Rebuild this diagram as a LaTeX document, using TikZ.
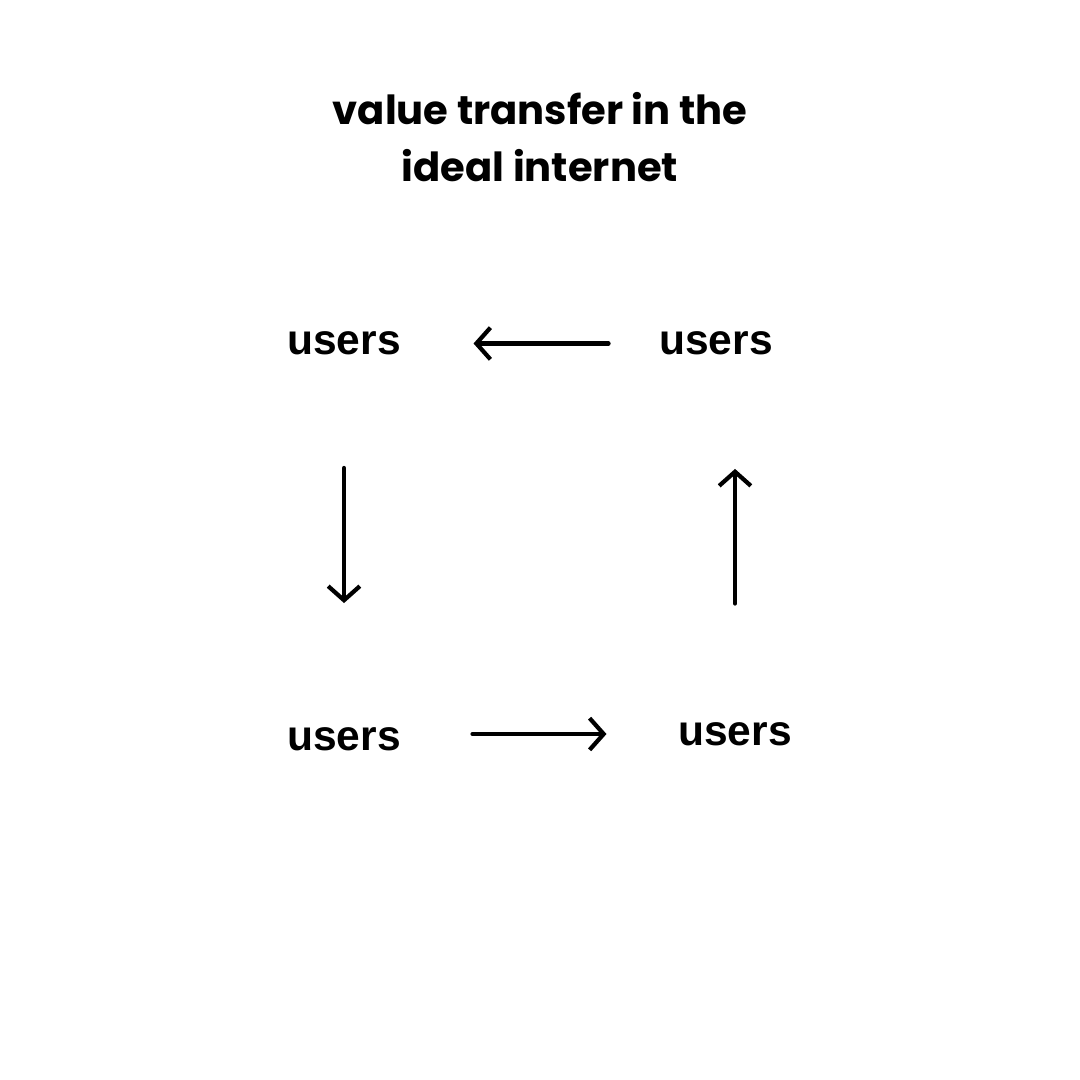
\documentclass[tikz,border=0pt]{standalone}
\usepackage{fontspec}
\setmainfont{Liberation Sans}
\newfontfamily\titlefont{Poppins}
\usetikzlibrary{arrows.meta}
\tikzset{
  who/.style={inner sep=0pt, font=\fontsize{12.1pt}{14pt}\selectfont\bfseries},
  flow/.style={line width=1.2pt, line cap=round, -{Straight Barb[length=4pt,width=9pt]}}
}
\begin{document}
\begin{tikzpicture}[x=0.01cm, y=-0.01cm]
                    \useasboundingbox (0,0) rectangle (1080,1080);

                    \node[inner sep=0pt, align=center, font=\titlefont\fontsize{11.4pt}{16.2pt}\selectfont\bfseries] (title) at (540,137) {value transfer in the\\ideal internet};

                    \node[who] (tl) at (344,343.5) {users};
                    \node[who] (tr) at (716,343.5) {users};
                    \node[who] (bl) at (344,739.5) {users};
                    \node[who] (br) at (735,734) {users};

                    \draw[flow, shorten <=0.5cm, shorten >=0.72cm] (tr.west) -- (tl.east);
                    \draw[flow, shorten <=1.12cm, shorten >=1.24cm] (tl.south) -- (bl.north);
                    \draw[flow, shorten <=0.71cm, shorten >=0.71cm] (bl.east |- br.west) -- (br.west);
                    \draw[flow, shorten <=1.18cm, shorten >=1.13cm] (br.north) -- (br.north |- tr.south);

\end{tikzpicture}
\end{document}
